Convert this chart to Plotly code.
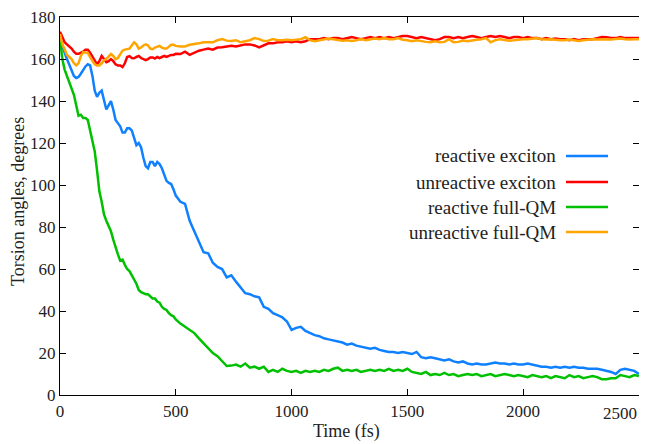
import plotly.graph_objects as go

# Time grid (fs)
time_fs = list(range(0, 501, 10)) + list(range(520, 2501, 20))

reactive_exciton = [
    170, 166, 163, 160, 157, 154, 152, 151, 151.5, 153,
    155, 156.5, 157.5, 157, 152, 145, 142, 144, 145, 140,
    136, 138, 140, 136, 131, 129.5, 128, 125, 125, 127,
    127, 126, 122, 119, 120, 118, 113, 109, 108, 111,
    111, 109, 111, 110, 108, 105, 102, 101, 100.5, 98,
    95,
    92, 91, 83, 78, 73, 68, 67.5, 63, 61, 60,
    56, 57, 54, 51, 48.5, 48, 47, 46.5, 42, 41,
    39, 38, 37, 35, 31, 32, 32.5, 30.5, 29.5, 28.5,
    28, 27, 26.5, 26, 25.5, 25, 24, 24.5, 23.5, 23,
    22.5, 22, 22.5, 21.5, 21, 20.5, 20.5, 20, 20.5, 20,
    19.5, 20.5, 18, 17.5, 18, 17.5, 17, 16.5, 17, 16,
    15.5, 16, 15, 14.5, 15, 14.5, 14.5, 15, 15.5, 15,
    15, 14.5, 15, 14.5, 14.5, 15, 14.5, 14, 13.5, 13.5,
    13, 13.5, 13, 13.5, 13, 13.5, 13, 13, 12.5, 12.5,
    12.5, 12, 11.5, 11, 10, 12, 12.5, 12, 11.5, 10,
]

unreactive_exciton = [
    173, 170, 168, 167, 166, 165, 163.5, 162.5, 162.5, 163,
    163.5, 164.5, 164.5, 163, 161, 159, 157.5, 159, 161.5, 160,
    158.5, 159, 160, 159, 157.5, 157, 157, 156.2, 158, 161,
    161.4, 160.5, 160.4, 161, 161.5, 160.5, 160, 159.5, 160, 160.8,
    160.8, 160.3, 161, 160.5, 161, 161.5, 161, 161.5, 162, 162,
    162.5,
    162.4, 163.5, 162, 163, 164, 164.5, 165, 164.5, 165.5, 165.6,
    166, 166.3, 166, 166.5, 167, 167, 166.5, 165.6, 166.5, 167.5,
    167.5, 168, 168, 168.5, 168, 168.5, 168, 168.5, 169.5, 169.5,
    169.5, 170, 169.5, 170, 170, 169.5, 170, 170.5, 170, 169.5,
    170, 170.5, 170, 170.5, 170, 170.5, 170, 170.5, 171, 171,
    170.5, 170, 170.5, 170, 169.5, 169, 169.5, 170.5, 170.5, 170,
    170.5, 170, 170.5, 171, 170.5, 170, 170.5, 171, 170.5, 171,
    170.5, 170, 170.5, 170.5, 170, 170.5, 170, 170, 169.5, 170,
    169.5, 169.8, 169.5, 169.5, 169, 169.5, 169, 169.5, 169.5, 169.5,
    170, 170.5, 170.4, 170, 170, 170.5, 170, 170, 170, 170,
]

reactive_fullqm = [
    170, 160, 155, 152, 149, 146, 143, 138, 133, 133.5,
    132, 132, 131, 126, 121, 116, 107, 97, 92, 86,
    83, 80.5, 78, 74, 70, 67, 64, 64.5, 62, 60,
    59, 57, 55, 53, 50, 49, 48.5, 48, 48, 47,
    46, 46, 44.5, 44, 42, 41, 40.5, 39, 38, 37.5,
    36,
    34, 32.5, 31, 29.5, 27, 24.5, 22, 20, 18.5, 16,
    13.8, 14, 14.5, 13.5, 15, 13, 13.5, 12.5, 13.5, 11,
    12, 11, 12.5, 11.5, 11, 11.5, 10.5, 11.5, 11, 11.5,
    11, 12, 11.5, 12.5, 13, 11.5, 12, 11.5, 12, 11,
    11.5, 12, 11.5, 12, 11.5, 12.5, 11.5, 12, 11.5, 12.5,
    11, 10.5, 10, 11, 9.5, 10, 9.5, 10.5, 9.5, 10,
    9, 9.5, 10, 9.5, 10, 9, 9.5, 10, 9, 9.5,
    10, 9.5, 9, 9.5, 9, 8.5, 9.5, 9, 8.5, 9,
    8, 9, 8.5, 8, 9.5, 8.5, 9, 8, 8.5, 9,
    8.5, 7.5, 7.5, 8, 8, 9.5, 9, 8.5, 9.5, 9,
]

unreactive_fullqm = [
    172, 167, 164.7, 162, 161, 160, 158, 157, 158, 161.5,
    163.3, 163, 163, 161, 159, 157.5, 157, 157, 158, 159.5,
    160, 161, 162.4, 161.5, 160, 160.5, 162, 164, 164.5, 164.7,
    165, 166.5, 168, 167, 165, 165.5, 166.5, 167, 166.5, 165,
    164.7, 165.5, 166, 166.3, 165.5, 165, 165, 166, 166.8, 166.8,
    166.3,
    166, 166, 166.8, 167, 167.5, 168, 168, 168, 169, 169.5,
    168.8, 168.6, 169, 168, 168.5, 169, 170, 169.5, 168.6, 168.8,
    169.5, 169, 169, 169.2, 169, 169.3, 169.5, 170.4, 169, 168.5,
    169, 169.5, 169.8, 169.5, 169, 168.8, 169, 168.6, 169, 169.5,
    169, 169.5, 169.8, 169.5, 170, 169.5, 169.5, 170, 169.2, 169,
    168.5, 169, 168.5, 168.2, 168, 168.5, 168, 168.2, 169.5, 168,
    168.2, 168.8, 168.5, 169, 169.2, 169.5, 170, 168, 169, 169.5,
    169, 168.8, 169, 169.3, 169.5, 169.5, 169.8, 170, 169.5, 169.3,
    169.5, 169.2, 169, 169, 169.3, 169, 168.6, 169, 169.2, 169.5,
    169.3, 169.5, 169.5, 169.3, 169.5, 169.8, 169.5, 169.3, 169.5, 169.5,
]

series_names = ["reactive exciton", "unreactive exciton", "reactive full-QM", "unreactive full-QM"]
series_values = [reactive_exciton, unreactive_exciton, reactive_fullqm, unreactive_fullqm]
series_colors = ["#0f80ff", "#ff0000", "#00c000", "#ffa500"]

x_ticks = [0, 500, 1000, 1500, 2000, 2500]
x_tick_labels = ["0", "500", "1000", "1500", "2000", "2500"]
y_ticks = [0, 20, 40, 60, 80, 100, 120, 140, 160, 180]
y_tick_labels = ["0", "20", "40", "60", "80", "100", "120", "140", "160", "180"]
x_title = "Time (fs)"
y_title = "Torsion angles, degrees"

FONT = "Liberation Serif, Times New Roman, serif"
TXT = "#222222"

fig = go.Figure()
draw_order = [0, 2, 1, 3]
for i in draw_order:
    assert len(series_values[i]) == len(time_fs)
    fig.add_trace(go.Scatter(
        x=time_fs, y=series_values[i], mode="lines", name=series_names[i],
        line=dict(color=series_colors[i], width=2.5), showlegend=False,
    ))

# The page body has an 8px margin, so the figure is offset by (8, 8) in the window.
OFF = 8
W, H = 647 - OFF, 444 - OFF
# plot area in window pixels: x 60..639, y 17..395
ml, mr = 60 - OFF, 647 - 639
mt = 17 - OFF
mb = H - (395 - OFF)
pw, ph = W - ml - mr, H - mt - mb

def px_x(p):  # window px -> paper fraction
    return (p - OFF - ml) / pw

def px_y(p):
    return (H - mb - (p - OFF)) / ph

# legend: right-aligned text with a sample line to its right
legend_rows_px = [156, 182, 207, 232]
text_right_px, line_x0_px, line_x1_px = 555, 566, 608
for name, color, ypx in zip(series_names, series_colors, legend_rows_px):
    yp = px_y(ypx)
    fig.add_annotation(
        x=px_x(text_right_px), y=yp, xref="paper", yref="paper",
        text=name, showarrow=False, xanchor="right", yanchor="middle",
        xshift=3, font=dict(family=FONT, size=19, color=TXT),
    )
    fig.add_shape(
        type="line", xref="paper", yref="paper",
        x0=px_x(line_x0_px), x1=px_x(line_x1_px), y0=yp, y1=yp,
        line=dict(color=color, width=2.5),
    )

# last x tick label is pulled left to stay inside the page, as in the reference
x_labels_shown = x_tick_labels[:-1] + [""]
fig.add_annotation(x=px_x(638), y=px_y(413), xref="paper", yref="paper",
                   text=x_tick_labels[-1], showarrow=False,
                   xanchor="right", yanchor="middle", borderpad=0,
                   font=dict(family=FONT, size=17, color=TXT))

# axis titles
fig.add_annotation(x=px_x(346), y=px_y(431), xref="paper", yref="paper",
                   text=x_title, showarrow=False, xanchor="center", yanchor="middle",
                   font=dict(family=FONT, size=18, color=TXT))
fig.add_annotation(x=px_x(18), y=px_y(202), xref="paper", yref="paper",
                   text=y_title, showarrow=False, textangle=-90,
                   xanchor="center", yanchor="middle",
                   font=dict(family=FONT, size=18, color=TXT))

axis_common = dict(
    showline=True, linecolor="black", linewidth=1.2, mirror="ticks",
    ticks="inside", ticklen=6, tickwidth=1.2, tickcolor="black",
    showgrid=False, zeroline=False, automargin=False,
    tickfont=dict(family=FONT, size=17, color=TXT),
)

fig.update_layout(
    width=W, height=H,
    margin=dict(l=ml, r=mr, t=mt, b=mb, autoexpand=False),
    paper_bgcolor="white", plot_bgcolor="white",
    xaxis=dict(range=[0, 2500.5], tickvals=x_ticks, ticktext=x_labels_shown, **axis_common),
    yaxis=dict(range=[0, 180.05], tickvals=y_ticks, ticktext=y_tick_labels, **axis_common),
)

fig.write_html("out.html")
